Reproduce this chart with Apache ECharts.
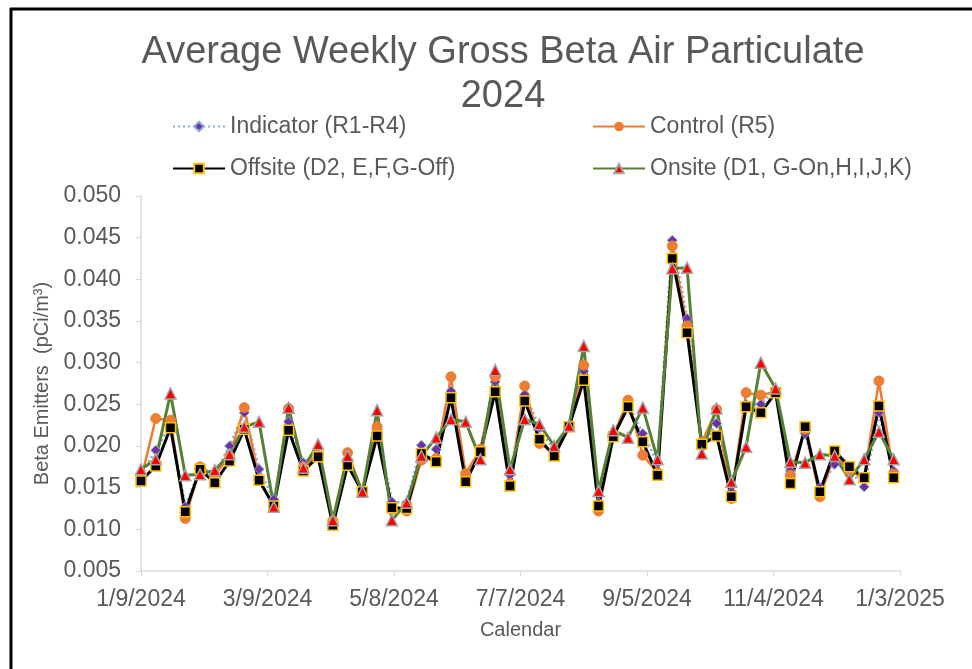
<!DOCTYPE html>
<html>
<head>
<meta charset="utf-8">
<script src="https://cdn.jsdelivr.net/npm/echarts@6/dist/echarts.min.js"></script>
<style>
  html, body { margin: 0; padding: 0; background: #fff; }
  #chart { width: 972px; height: 669px; }
</style>
</head>
<body>
<div id="chart"></div>
<script>
// weekly sample dates
const dates = [
  '2024-01-09', '2024-01-16', '2024-01-23', '2024-01-30', '2024-02-06', '2024-02-13', '2024-02-20', '2024-02-27',
  '2024-03-05', '2024-03-12', '2024-03-19', '2024-03-26', '2024-04-02', '2024-04-09', '2024-04-16', '2024-04-23',
  '2024-04-30', '2024-05-07', '2024-05-14', '2024-05-21', '2024-05-28', '2024-06-04', '2024-06-11', '2024-06-18',
  '2024-06-25', '2024-07-02', '2024-07-09', '2024-07-16', '2024-07-23', '2024-07-30', '2024-08-06', '2024-08-13',
  '2024-08-20', '2024-08-27', '2024-09-03', '2024-09-10', '2024-09-17', '2024-09-24', '2024-10-01', '2024-10-08',
  '2024-10-15', '2024-10-22', '2024-10-29', '2024-11-05', '2024-11-12', '2024-11-19', '2024-11-26', '2024-12-03',
  '2024-12-10', '2024-12-17', '2024-12-24', '2024-12-31'
];

const indicator = [
  0.0165, 0.0195, 0.0226, 0.0127, 0.0172, 0.0165, 0.0200, 0.0240, 0.0172, 0.0136,
  0.0229, 0.0180, 0.0190, 0.0108, 0.0185, 0.0145, 0.0220, 0.0133, 0.0132, 0.0201,
  0.0196, 0.0266, 0.0165, 0.0195, 0.0277, 0.0165, 0.0262, 0.0222, 0.0195, 0.0224,
  0.0290, 0.0132, 0.0215, 0.0250, 0.0215, 0.0180, 0.0447, 0.0353, 0.0200, 0.0227,
  0.0145, 0.0250, 0.0250, 0.0268, 0.0170, 0.0215, 0.0150, 0.0178, 0.0172, 0.0151,
  0.0240, 0.0170
];

const control = [
  0.0160, 0.0233, 0.0231, 0.0113, 0.0175, 0.0165, 0.0188, 0.0246, 0.0160, 0.0128,
  0.0245, 0.0175, 0.0190, 0.0110, 0.0192, 0.0145, 0.0223, 0.0124, 0.0122, 0.0183,
  0.0185, 0.0283, 0.0167, 0.0196, 0.0283, 0.0155, 0.0272, 0.0203, 0.0192, 0.0223,
  0.0297, 0.0122, 0.0212, 0.0255, 0.0189, 0.0168, 0.0440, 0.0344, 0.0204, 0.0244,
  0.0137, 0.0264, 0.0261, 0.0265, 0.0165, 0.0220, 0.0139, 0.0190, 0.0170, 0.0162,
  0.0278, 0.0166
];

const offsite = [
  0.0158, 0.0176, 0.0222, 0.0121, 0.0172, 0.0156, 0.0182, 0.0220, 0.0159, 0.0128,
  0.0219, 0.0170, 0.0187, 0.0105, 0.0177, 0.0145, 0.0212, 0.0126, 0.0125, 0.0191,
  0.0181, 0.0258, 0.0157, 0.0193, 0.0265, 0.0152, 0.0254, 0.0208, 0.0188, 0.0223,
  0.0279, 0.0128, 0.0211, 0.0247, 0.0205, 0.0165, 0.0425, 0.0336, 0.0202, 0.0212,
  0.0139, 0.0247, 0.0240, 0.0264, 0.0155, 0.0223, 0.0145, 0.0194, 0.0175, 0.0162,
  0.0248, 0.0162
];

const onsite = [
  0.0172, 0.0184, 0.0263, 0.0165, 0.0166, 0.0171, 0.0190, 0.0223, 0.0229, 0.0127,
  0.0246, 0.0174, 0.0202, 0.0111, 0.0188, 0.0145, 0.0243, 0.0111, 0.0132, 0.0188,
  0.0210, 0.0232, 0.0229, 0.0184, 0.0291, 0.0172, 0.0232, 0.0226, 0.0200, 0.0224,
  0.0320, 0.0146, 0.0219, 0.0210, 0.0246, 0.0184, 0.0413, 0.0414, 0.0191, 0.0245,
  0.0157, 0.0199, 0.0300, 0.0269, 0.0181, 0.0180, 0.0190, 0.0188, 0.0160, 0.0184,
  0.0217, 0.0184
];

const axisStart = '2024-01-09';
const axisEnd = '2025-01-03';
const DAY = 86400000;
const base = Date.parse(axisStart);
const dayOf = d => (Date.parse(d) - base) / DAY;

function pairs(vals) {
  return vals.map((v, i) => [dayOf(dates[i]), v]);
}

function fmtDate(v) {
  const d = new Date(base + v * DAY);
  return (d.getUTCMonth() + 1) + '/' + d.getUTCDate() + '/' + d.getUTCFullYear();
}

const textColor = '#595959';
const font = 'Arial, "Liberation Sans", sans-serif';

const chart = echarts.init(document.getElementById('chart'));

chart.setOption({
  backgroundColor: '#fff',
  animation: false,
  textStyle: { fontFamily: font },
  title: {
    text: 'Average Weekly Gross Beta Air Particulate\n2024',
    left: 498,
    textAlign: 'center',
    top: 26,
    textStyle: { fontSize: 38, fontWeight: 'normal', color: textColor, lineHeight: 44, fontFamily: font }
  },
  legend: [{
    data: ['Indicator (R1-R4)', 'Offsite (D2, E,F,G-Off)'],
    orient: 'vertical',
    left: 167,
    top: 110,
    itemGap: 19,
    itemWidth: 52,
    itemHeight: 12,
    textStyle: { fontSize: 23, color: textColor, fontFamily: font }
  }, {
    data: ['Control (R5)', 'Onsite (D1, G-On,H,I,J,K)'],
    orient: 'vertical',
    left: 587,
    top: 110,
    itemGap: 19,
    itemWidth: 52,
    itemHeight: 12,
    textStyle: { fontSize: 23, color: textColor, fontFamily: font }
  }],
  grid: { left: 141, right: 72, top: 196, bottom: 98, containLabel: false },
  xAxis: {
    type: 'value',
    min: 0,
    max: dayOf(axisEnd),
    interval: 60,
    name: 'Calendar',
    nameLocation: 'middle',
    nameGap: 49,
    nameTextStyle: { fontSize: 20, color: textColor, fontFamily: font },
    axisLine: { lineStyle: { color: '#d9d9d9', width: 1.5 } },
    axisTick: { show: true, length: 5, lineStyle: { color: '#d9d9d9' } },
    splitLine: { show: false },
    axisLabel: { formatter: fmtDate, fontSize: 23, color: textColor, margin: 17, fontFamily: font }
  },
  yAxis: {
    type: 'value',
    min: 0.005,
    max: 0.05,
    interval: 0.005,
    name: 'Beta Emitters  (pCi/m³)',
    nameLocation: 'middle',
    nameGap: 82,
    nameTextStyle: { fontSize: 20, color: textColor, fontFamily: font },
    axisLine: { show: true, lineStyle: { color: '#d9d9d9', width: 1.5 } },
    axisTick: { show: true, inside: false, length: 5, lineStyle: { color: '#d9d9d9' } },
    splitLine: { show: false },
    axisLabel: { formatter: v => v.toFixed(3), fontSize: 23, color: textColor, margin: 20, fontFamily: font }
  },
  graphic: [
    { type: 'line', shape: { x1: 10, y1: 9, x2: 972, y2: 9 }, style: { stroke: '#000', lineWidth: 3 } },
    { type: 'line', shape: { x1: 11, y1: 8, x2: 11, y2: 669 }, style: { stroke: '#000', lineWidth: 3 } }
  ],
  series: [{
    name: 'Indicator (R1-R4)',
    type: 'line',
    data: pairs(indicator),
    symbol: 'diamond',
    symbolSize: 10,
    showAllSymbol: true,
    lineStyle: { color: '#8faadc', width: 3, type: [2, 3] },
    itemStyle: { color: '#7030a0', borderColor: '#8faadc', borderWidth: 1 }
  }, {
    name: 'Control (R5)',
    type: 'line',
    data: pairs(control),
    symbol: 'circle',
    symbolSize: 10,
    showAllSymbol: true,
    lineStyle: { color: '#ed7d31', width: 2.5 },
    itemStyle: { color: '#ed7d31', borderColor: '#ed7d31' }
  }, {
    name: 'Offsite (D2, E,F,G-Off)',
    type: 'line',
    data: pairs(offsite),
    symbol: 'rect',
    symbolSize: 10,
    showAllSymbol: true,
    lineStyle: { color: '#000', width: 3 },
    itemStyle: { color: '#000', borderColor: '#ffc000', borderWidth: 1.5 }
  }, {
    name: 'Onsite (D1, G-On,H,I,J,K)',
    type: 'line',
    data: pairs(onsite),
    symbol: 'triangle',
    symbolSize: 11,
    showAllSymbol: true,
    lineStyle: { color: '#548235', width: 3 },
    itemStyle: { color: '#ff0000', borderColor: '#a5a5a5', borderWidth: 1.5 }
  }]
});
</script>
</body>
</html>
